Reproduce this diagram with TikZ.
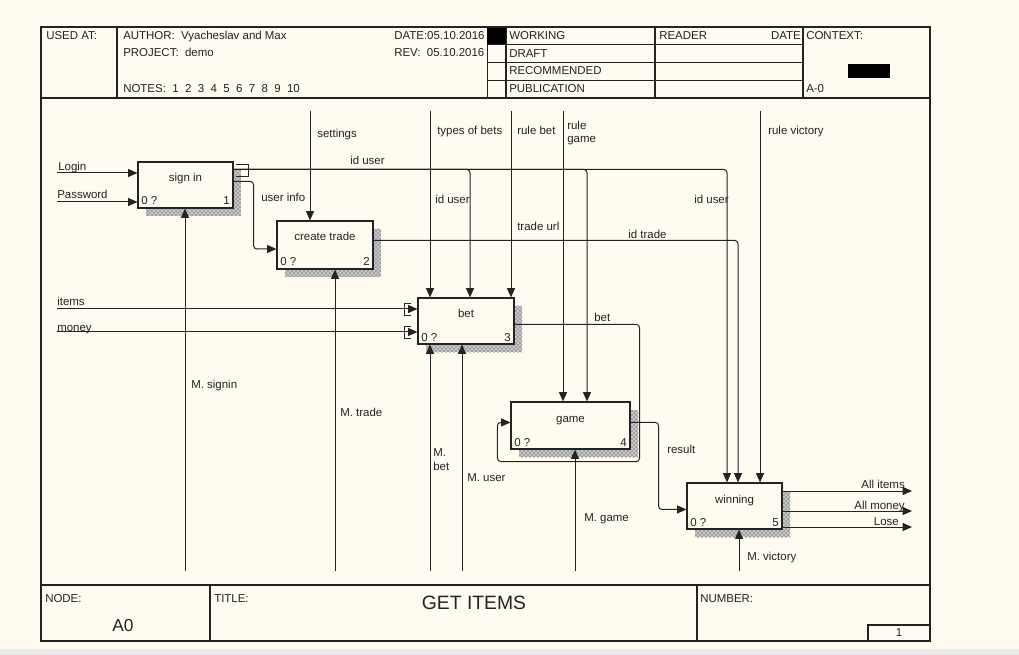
\documentclass[tikz,border=0pt]{standalone}
\usepackage{fontspec}
\setmainfont{Liberation Sans}
\usetikzlibrary{arrows.meta,patterns,calc}
\definecolor{bg}{RGB}{255,251,240}
\definecolor{ln}{RGB}{35,35,35}
\newcommand{\idefbox}[7]{%
  \fill[shade] (#2+8,#3+8) rectangle (#4+8,#5+8);
  \node[box, minimum width={(#4-#2)*0.75pt}, minimum height={(#5-#3)*0.75pt}] (#1) at ({(#2+#4)/2},{(#3+#5)/2}) {};
  \node[anchor=base] at ({(#2+#4)/2},#3+20) {#6};
  \node[anchor=base west] at (#2+3,#5-3) {0 ?};
  \node[anchor=base east] at (#4-3,#5-3) {#7};
}
\begin{document}
\begin{tikzpicture}[x=0.75pt,y=-0.75pt, font=\fontsize{8.6}{10}\selectfont,
  every node/.style={inner sep=0pt, text=ln},
  frame/.style={draw=ln, line width=0.9pt},
  thinl/.style={draw=ln, line width=0.7pt},
  box/.style={draw=ln, line width=0.85pt, fill=bg, rectangle, inner sep=0pt},
  shade/.style={fill=black!22, postaction={pattern=crosshatch dots, pattern color=black!85}},
  conn/.style={draw=ln, line width=0.75pt, rounded corners=2.5pt},
  arr/.style={conn, -{Triangle[length=7pt,width=6pt]}},
  lbl/.style={anchor=base west},
  lbr/.style={anchor=base east}]
% background
\fill[bg] (0,0) rectangle (1019,655);
\fill[black!8] (0,649) rectangle (1019,655);
\useasboundingbox (0,0) rectangle (1019,655);
% frame
\draw[frame] (41,27) rectangle (930,641);
\draw[frame] (41,98) -- (930,98);
\draw[frame] (41,585) -- (930,585);
% header
\draw[frame] (117,27) -- (117,98);
\draw[thinl] (487,44) -- (487,98);
\draw[frame] (506,27) -- (506,98);
\draw[frame] (655,27) -- (655,98);
\draw[frame] (803,27) -- (803,98);
\foreach \yy in {44.5,62,80} \draw[thinl] (487,\yy) -- (803,\yy);
\node[lbl] at (46,40) {USED AT:};
\node[lbl] at (123,40) {AUTHOR:\ \ Vyacheslav and Max};
\node[lbl] at (123,57) {PROJECT:\ \ demo};
\node[lbl] at (123,93) {NOTES:\ \ 1\ \ 2\ \ 3\ \ 4\ \ 5\ \ 6\ \ 7\ \ 8\ \ 9\ \ 10};
\node[lbl] at (394,40) {DATE:05.10.2016};
\node[lbl] at (394,57) {REV:\ \ 05.10.2016};
\fill[black] (487,28) rectangle (506,44);
\node[lbl] at (509,40) {WORKING};
\node[lbl] at (509,58) {DRAFT};
\node[lbl] at (509,75) {RECOMMENDED};
\node[lbl] at (509,93) {PUBLICATION};
\node[lbl] at (659,40) {READER};
\node[lbr] at (801,40) {DATE};
\node[lbl] at (806,40) {CONTEXT:};
\fill[black] (848,64) rectangle (890,78);
\node[lbl] at (806,93) {A-0};
% footer
\draw[frame] (210,585) -- (210,641);
\draw[frame] (697,585) -- (697,641);
\draw[frame] (868,625) rectangle (930,641);
\node[lbl] at (45,602) {NODE:};
\node[lbl] at (214,602) {TITLE:};
\node[lbl] at (700,602) {NUMBER:};
\node[font=\fontsize{13}{15}\selectfont] at (123,626) {A0};
\node[font=\fontsize{14.5}{17}\selectfont] at (474,603) {GET ITEMS};
\node at (899,633) {1};
% boxes
\idefbox{signin}{138}{162}{233}{208}{sign in}{1}
\idefbox{create}{277}{221}{373}{269}{create trade}{2}
\idefbox{bet}{418}{298}{514}{344}{bet}{3}
\idefbox{game}{511}{402}{630}{449}{game}{4}
\idefbox{win}{687}{483}{782}{529}{winning}{5}
% inputs
\coordinate (login) at (57,173);
\coordinate (pwd) at (57,202);
\coordinate (items) at (57,309);
\coordinate (money) at (57,332);
\draw[arr] (login) -- (login -| signin.west);
\draw[arr] (pwd) -- (pwd -| signin.west);
\draw[arr] (items) -- (items -| bet.west);
\draw[arr] (money) -- (money -| bet.west);
\draw[thinl] (411,303) -- (404,303) -- (404,315) -- (411,315);
\draw[thinl] (411,326) -- (404,326) -- (404,338) -- (411,338);
\node[lbl] at (58,171) {Login};
\node[lbl] at (57,199) {Password};
\node[lbl] at (57,306) {items};
\node[lbl] at (57,331) {money};
% controls
\coordinate (settings) at (310,111);
\coordinate (tob) at (430,111);
\coordinate (rbet) at (511,111);
\coordinate (rgame) at (563,111);
\coordinate (rvic) at (760,111);
\draw[arr] (settings) -- (settings |- create.north);
\draw[arr] (tob) -- (tob |- bet.north);
\draw[arr] (rbet) -- (rbet |- bet.north);
\draw[arr] (rgame) -- (rgame |- game.north);
\draw[arr] (rvic) -- (rvic |- win.north);
\node[lbl] at (317,138) {settings};
\node[lbl] at (437,135) {types of bets};
\node[lbl] at (517,135) {rule bet};
\node[lbl] at (567,130) {rule};
\node[lbl] at (567,143) {game};
\node[lbl] at (768,135) {rule victory};
% id user
\coordinate (iu) at ($(signin.north east)+(0,8)$);
\coordinate (xiu1) at (470,0);
\coordinate (xiu2) at (587,0);
\coordinate (xiu3) at (727,0);
\draw[arr] (iu) -| (xiu3 |- win.north);
\draw[arr] (iu) -| (xiu1 |- bet.north);
\draw[arr] (iu) -| (xiu2 |- game.north);
\draw[thinl] (236,164) -- (248,164) -- (248,176) -- (236,176);
\node[lbl] at (350,165) {id user};
\node[lbl] at (435,204) {id user};
\node[lbl] at (694,204) {id user};
% user info
\coordinate (ui) at ($(signin.north east)+(0,20)$);
\coordinate (uiy) at (0,249);
\draw[arr] (ui) -- ++(20,0) |- (uiy -| create.west);
\node[lbl] at (261,202) {user info};
% create trade out
\coordinate (ct) at ($(create.north east)+(0,20)$);
\coordinate (xit) at (738,0);
\draw[arr] (ct) -| (xit |- win.north);
\node[lbl] at (517,231) {trade url};
\node[lbl] at (628,239) {id trade};
% bet out -> game
\coordinate (bo) at ($(bet.north east)+(0,27)$);
\coordinate (gi) at ($(game.north west)+(0,21)$);
\draw[arr] (bo) -| ($(game.south east)+(9,12)$) -| ($(game.south west)+(-13,0)$) |- (gi);
\node[lbl] at (594,322) {bet};
% game out -> winning
\coordinate (go) at ($(game.north east)+(0,21)$);
\coordinate (wi) at ($(win.north west)+(0,27)$);
\draw[arr] (go) -- ++(28,0) |- (wi);
\node[lbl] at (667,453) {result};
% winning outputs
\coordinate (o1) at (912,491);
\coordinate (o2) at (912,511);
\coordinate (o3) at (912,527);
\draw[arr] (o1 -| win.east) -- (o1);
\draw[arr] (o2 -| win.east) -- (o2);
\draw[arr] (o3 -| win.east) -- (o3);
\node[lbr] at (905,488) {All items};
\node[lbr] at (905,509) {All money};
\node[lbr] at (899,525) {Lose};
% mechanisms
\coordinate (m1) at (185,571);
\coordinate (m2) at (335,571);
\coordinate (m3) at (430,571);
\coordinate (m4) at (462,571);
\coordinate (m5) at (575,571);
\coordinate (m6) at (739,571);
\draw[arr] (m1) -- (m1 |- signin.south);
\draw[arr] (m2) -- (m2 |- create.south);
\draw[arr] (m3) -- (m3 |- bet.south);
\draw[arr] (m4) -- (m4 |- bet.south);
\draw[arr] (m5) -- (m5 |- game.south);
\draw[arr] (m6) -- (m6 |- win.south);
\node[lbl] at (191,388) {M. signin};
\node[lbl] at (340,416) {M. trade};
\node[lbl] at (433,456) {M.};
\node[lbl] at (433,470) {bet};
\node[lbl] at (467,481) {M. user};
\node[lbl] at (584,521) {M. game};
\node[lbl] at (747,560) {M. victory};
\end{tikzpicture}
\end{document}
